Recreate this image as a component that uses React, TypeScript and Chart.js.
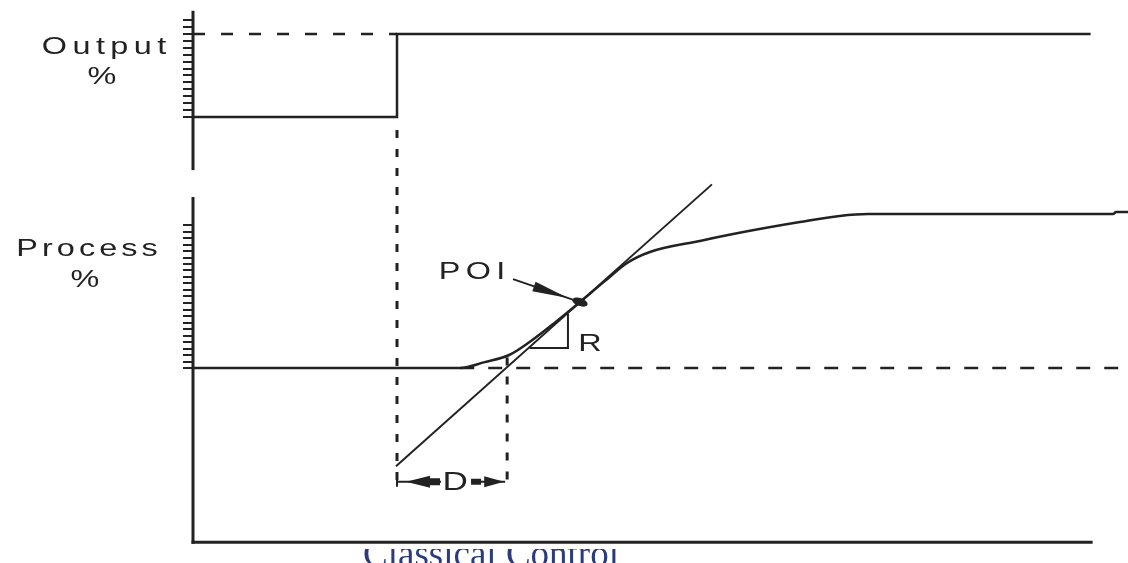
import React, { useEffect, useRef } from "react";
import { Chart, registerables } from "chart.js";

Chart.register(...registerables);

// ---- data (time in minutes, signals in %) ----
const outTime = [0, 10, 10, 44];
const outValue = [30, 30, 60, 60];
const outTargetTime = [0, 10];
const outTargetValue = [60, 60];

const procTime = [0, 13.1, 14.3, 15.5, 16.5, 17.75, 18.97, 20.2, 21.3, 22.4, 24.85, 27.3, 29.75, 31.7, 33.1, 45.1, 45.25, 45.9];
const procValue = [40, 40, 40.9, 42.0, 44.0, 47.0, 50.14, 53.4, 56.2, 57.85, 59.55, 61.1, 62.45, 63.4, 63.7, 63.7, 64.0, 64.0];
const procBaseTime = [13.1, 45.9];
const procBaseValue = [40, 40];

const tangentTime = [9.95, 25.44];
const tangentValue = [24.88, 68.25];

const stepMarkTime = [10, 10];
const stepMarkValue = [76.6, 21.5];
const deadMarkTime = [15.4, 15.4];
const deadMarkValue = [41.6, 21.5];

const slopeTime = [16.5, 18.38, 18.38];
const slopeValue = [43.08, 43.08, 48.4];

const poiTime = 18.97;
const poiValue = 50.14;
const deadSpanTime = [10, 15.4];
const deadSpanRow = 22.5;

// axis extents and tick marks
const outAxisRange = [10.8, 68.4];
const outTicks = [30, 32.5, 35, 37.5, 40, 42.5, 45, 47.5, 50, 52.5, 55, 57.5, 60, 62.5, 65];
const procAxisRange = [13.2, 66.3];
const procTicks = [40, 41, 42, 43, 44, 45, 46, 47, 48, 49, 50, 51, 52, 53, 54, 55, 56, 57, 58, 59, 60, 61, 62];
const timeAxisEnd = 44.1;

// ---- layout ----
const W = 1128;
const H = 563;
const AXIS_PX = 193;
const PX_PER_MIN = 20.4;
const OUT_REF = 30;
const OUT_REF_PX = 117;
const OUT_PX_PER = 83 / 30;
const PROC_REF = 40;
const PROC_REF_PX = 368;
const PROC_PX_PER = 6.5;

const INK = "#222222";
const SANS = '"Liberation Sans", Arial, sans-serif';
const WIDEN = 1.35;

const pts = (xs: number[], ys: number[]) => xs.map((x, i) => ({ x, y: ys[i] }));

function strokeLine(ctx: CanvasRenderingContext2D, x1: number, y1: number, x2: number, y2: number) {
  ctx.beginPath();
  ctx.moveTo(x1, y1);
  ctx.lineTo(x2, y2);
  ctx.stroke();
}

// wide, loosely spaced sans label centred on (cx, cy)
function wideText(ctx: CanvasRenderingContext2D, text: string, cx: number, cy: number, size: number, spacing: number) {
  ctx.save();
  ctx.font = `${size}px ${SANS}`;
  (ctx as any).letterSpacing = `${spacing}px`;
  const w = ctx.measureText(text).width - spacing;
  ctx.textAlign = "left";
  ctx.textBaseline = "middle";
  ctx.translate(cx, cy);
  ctx.scale(WIDEN, 1);
  ctx.fillText(text, -w / 2, 0);
  ctx.restore();
}

function arrowHead(ctx: CanvasRenderingContext2D, tx: number, ty: number, dx: number, dy: number, len: number, half: number) {
  const d = Math.hypot(dx, dy);
  const ux = dx / d, uy = dy / d;
  const bx = tx - ux * len, by = ty - uy * len;
  ctx.beginPath();
  ctx.moveTo(tx, ty);
  ctx.lineTo(bx - uy * half, by + ux * half);
  ctx.lineTo(bx + uy * half, by - ux * half);
  ctx.closePath();
  ctx.fill();
}

const diagramPlugin = {
  id: "diagramMarks",
  afterDatasetsDraw(chart: any) {
    const ctx: CanvasRenderingContext2D = chart.ctx;
    const x = chart.scales.x;
    const yo = chart.scales.yOut;
    const yp = chart.scales.yProc;
    ctx.save();
    ctx.strokeStyle = INK;
    ctx.fillStyle = INK;
    ctx.lineCap = "butt";

    // axes
    const ax = x.getPixelForValue(0);
    ctx.lineWidth = 3;
    strokeLine(ctx, ax, yo.getPixelForValue(outAxisRange[1]), ax, yo.getPixelForValue(outAxisRange[0]));
    const procBottom = yp.getPixelForValue(procAxisRange[0]);
    strokeLine(ctx, ax, yp.getPixelForValue(procAxisRange[1]), ax, procBottom + 1.5);
    strokeLine(ctx, ax - 1.5, procBottom, x.getPixelForValue(timeAxisEnd), procBottom);

    ctx.lineWidth = 2;
    for (const v of outTicks) {
      const y = Math.round(yo.getPixelForValue(v));
      strokeLine(ctx, ax - 10, y, ax, y);
    }
    for (const v of procTicks) {
      const y = Math.round(yp.getPixelForValue(v));
      strokeLine(ctx, ax - 10, y, ax, y);
    }

    // axis titles
    wideText(ctx, "Output", 104, 47, 24, 4);
    wideText(ctx, "%", 102, 77, 24, 0);
    wideText(ctx, "Process", 87, 249, 24, 3);
    wideText(ctx, "%", 85, 280, 24, 0);

    // point of inflection arrow
    const px = x.getPixelForValue(poiTime);
    const py = yp.getPixelForValue(poiValue);
    const sx = px - 67, sy = py - 23;
    ctx.lineWidth = 2;
    strokeLine(ctx, sx, sy, px, py);
    arrowHead(ctx, px - 12, py - 4, 67, 23, 36, 5);
    ctx.beginPath();
    ctx.ellipse(px, py, 8, 4, Math.atan2(23, 67), 0, Math.PI * 2);
    ctx.fill();
    wideText(ctx, "POI", px - 108, py - 30, 24, 4);

    // slope label
    wideText(ctx, "R", x.getPixelForValue(slopeTime[1]) + 22, yp.getPixelForValue(slopeValue[0]) - 4, 24, 0);

    // dead time span
    const dy = yp.getPixelForValue(deadSpanRow);
    const d0 = x.getPixelForValue(deadSpanTime[0]);
    const d1 = x.getPixelForValue(deadSpanTime[1]);
    const dc = (d0 + d1) / 2 + 3;
    ctx.lineWidth = 2;
    strokeLine(ctx, d0, dy - 5, d0, dy + 5);
    strokeLine(ctx, d0, dy, dc - 14, dy);
    strokeLine(ctx, dc + 16, dy, d1 - 2, dy);
    arrowHead(ctx, d0 + 9, dy, -1, 0, 24, 6);
    ctx.fillRect(d0 + 30, dy - 3.5, 13, 7);
    arrowHead(ctx, d1 - 3, dy, 1, 0, 20, 5.5);
    ctx.fillRect(dc + 16, dy - 3, 10, 6);
    wideText(ctx, "D", dc, dy + 1, 26, 0);

    ctx.restore();

    // caption under the frame, its upper part hidden behind the diagram
    ctx.save();
    ctx.beginPath();
    ctx.rect(0, 549, W, H - 549);
    ctx.clip();
    ctx.font = `37px "Liberation Serif", "Times New Roman", serif`;
    ctx.fillStyle = "#2a3b7e";
    ctx.textAlign = "center";
    ctx.textBaseline = "alphabetic";
    ctx.fillText("Classical Control", 491, 566);
    ctx.restore();
  },
};

export default function App() {
  const canvasRef = useRef<HTMLCanvasElement | null>(null);

  useEffect(() => {
    const canvas = canvasRef.current;
    if (!canvas) return;

    const base = { showLine: true, pointRadius: 0, borderColor: INK, borderWidth: 2, fill: false, xAxisID: "x" };

    const chart = new Chart(canvas, {
      type: "scatter",
      data: {
        datasets: [
          { ...base, label: "Output", yAxisID: "yOut", data: pts(outTime, outValue), borderWidth: 2.5 },
          { ...base, label: "Output target", yAxisID: "yOut", data: pts(outTargetTime, outTargetValue), borderDash: [12, 16], borderWidth: 2.5 },
          { ...base, label: "Process", yAxisID: "yProc", data: pts(procTime, procValue), cubicInterpolationMode: "monotone", borderWidth: 2.5 },
          { ...base, label: "Process start", yAxisID: "yProc", data: pts(procBaseTime, procBaseValue), borderDash: [14, 14], borderWidth: 2.5 },
          { ...base, label: "Tangent", yAxisID: "yProc", data: pts(tangentTime, tangentValue) },
          { ...base, label: "Step", yAxisID: "yProc", data: pts(stepMarkTime, stepMarkValue), borderDash: [8, 11], borderWidth: 3 },
          { ...base, label: "Dead time", yAxisID: "yProc", data: pts(deadMarkTime, deadMarkValue), borderDash: [8, 11], borderWidth: 3 },
          { ...base, label: "Slope", yAxisID: "yProc", data: pts(slopeTime, slopeValue) },
        ],
      },
      options: {
        animation: false,
        responsive: false,
        maintainAspectRatio: false,
        devicePixelRatio: 1,
        layout: { padding: 0 },
        events: [],
        plugins: { legend: { display: false }, tooltip: { enabled: false } },
        scales: {
          x: {
            type: "linear",
            display: false,
            min: -AXIS_PX / PX_PER_MIN,
            max: (W - AXIS_PX) / PX_PER_MIN,
          },
          yOut: {
            type: "linear",
            display: false,
            min: OUT_REF - (H - OUT_REF_PX) / OUT_PX_PER,
            max: OUT_REF + OUT_REF_PX / OUT_PX_PER,
          },
          yProc: {
            type: "linear",
            display: false,
            min: PROC_REF - (H - PROC_REF_PX) / PROC_PX_PER,
            max: PROC_REF + PROC_REF_PX / PROC_PX_PER,
          },
        },
      },
      plugins: [diagramPlugin],
    });

    return () => chart.destroy();
  }, []);

  return (
    <div style={{ position: "absolute", left: 0, top: 0, width: W, height: H, background: "#fff" }}>
      <canvas ref={canvasRef} width={W} height={H} style={{ display: "block", width: W, height: H }} />
    </div>
  );
}
